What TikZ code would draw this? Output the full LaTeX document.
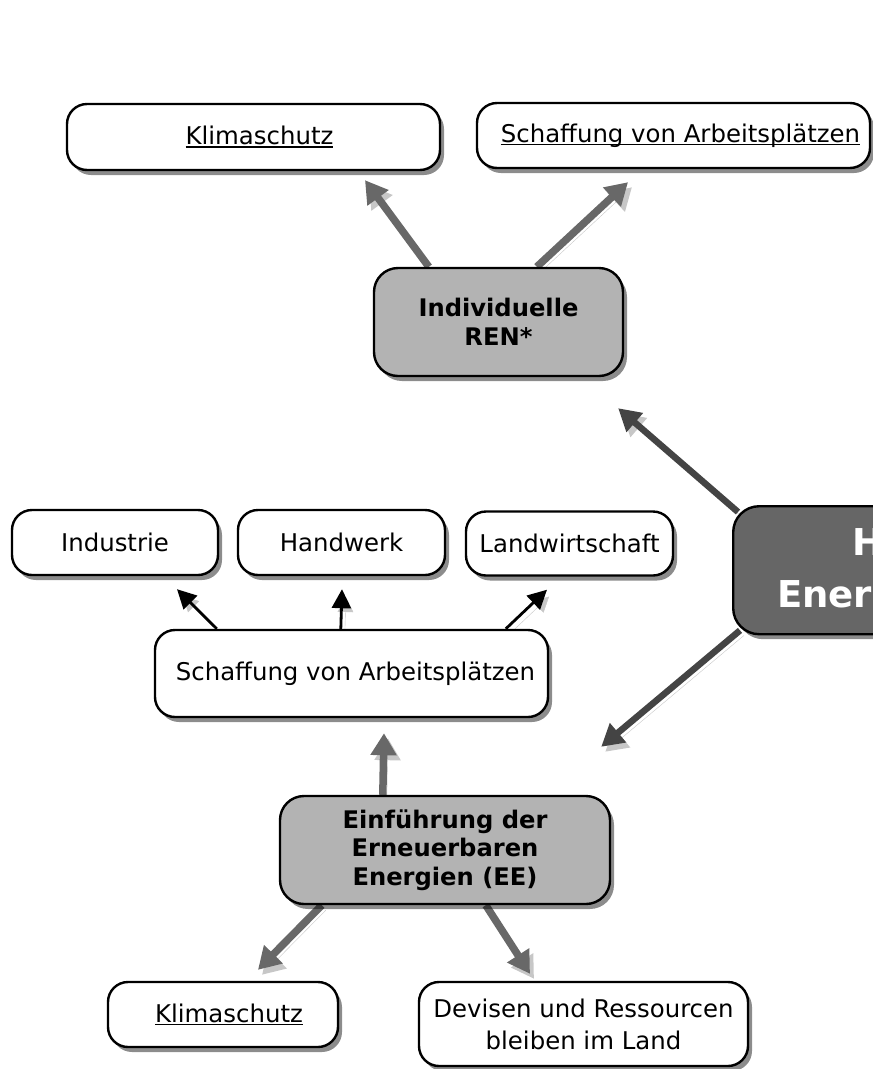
\documentclass[tikz,border=0pt]{standalone}
\usepackage{fontspec}
\setmainfont{DejaVu Sans}
\usetikzlibrary{arrows.meta,shadows,calc,backgrounds}
\definecolor{boxgray}{HTML}{B3B3B3}
\definecolor{darkbox}{HTML}{666666}
\definecolor{arrgray}{HTML}{686868}
\definecolor{arrdark}{HTML}{444444}
\newsavebox\myulbox
\newcommand\myul[1]{\sbox\myulbox{#1}\rlap{\rule[-2.6pt]{\wd\myulbox}{1.3pt}}\usebox\myulbox}
\begin{document}
\begin{tikzpicture}[x=1pt,y=-1pt,
  box/.style={draw=black, line width=2.4pt, rounded corners=20pt, fill=white, align=center, inner sep=0pt,
    drop shadow={shadow xshift=4pt, shadow yshift=-5pt, fill=black, opacity=0.45},
    font=\fontsize{24.4pt}{30pt}\selectfont},
  graybox/.style={box, fill=boxgray, rounded corners=24pt, font=\fontsize{24.2pt}{28.5pt}\selectfont\bfseries},
  bigbox/.style={box, fill=darkbox, rounded corners=26pt},
  bigtext/.style={text=white, inner sep=0pt, font=\fontsize{37pt}{44pt}\selectfont\bfseries},
  ashadow/.style={preaction={draw=black!22, transform canvas={xshift=4pt,yshift=-5pt}}},
  garrow/.style={draw=arrgray, line width=7.5pt, -{Triangle[length=22pt,width=25pt]}, ashadow},
  darrow/.style={draw=arrdark, line width=6.5pt, -{Triangle[length=22pt,width=24pt]}, ashadow},
  barrow/.style={draw=black, line width=2.8pt, -{Triangle[length=19pt,width=19pt]}, ashadow}
]
\useasboundingbox (0,0) rectangle (873,1069);
\clip (0,0) rectangle (873,1069);

% top row
\node[box, minimum width=373pt, minimum height=66pt] (klima1) at (253.5,137) {\hspace*{12pt}\myul{Klimaschutz}};
\node[box, minimum width=393pt, minimum height=65pt] (arb1) at (673.5,135.5) {\hspace*{14pt}\myul{Schaffung von Arbeitsplätzen}};
\node[graybox, minimum width=249pt, minimum height=108pt] (ren) at (498.5,322) {Individuelle\\REN*};

% big box (cut by the right edge, as in the reference)
\node[bigbox, anchor=north west, minimum width=400pt, minimum height=128pt] (big) at (732,505) {};
\node[bigtext, anchor=base west] (bigt1) at (852,555) {H};
\node[bigtext, anchor=base west] (bigt2) at (777,607) {Ener};

% middle row
\node[box, minimum width=206pt, minimum height=65pt] (ind) at (115,542.5) {Industrie};
\node[box, minimum width=207pt, minimum height=65pt] (hand) at (341.5,542.5) {Handwerk};
\node[box, minimum width=207pt, minimum height=64pt] (land) at (569.5,543.5) {Landwirtschaft};
\node[box, minimum width=393pt, minimum height=87pt] (sva) at (351.5,673.5) {\raisebox{4pt}{\hspace*{8pt}Schaffung von Arbeitsplätzen}};

% lower part
\node[graybox, minimum width=330pt, minimum height=108pt] (ein) at (445,850) {Einführung der\\Erneuerbaren\\Energien (EE)};
\node[box, minimum width=230pt, minimum height=65pt] (klima2) at (223,1014.5) {\hspace*{12pt}\myul{Klimaschutz}};
\node[box, minimum width=329pt, minimum height=84pt, font=\fontsize{24.4pt}{32pt}\selectfont] (dev) at (583.5,1024) {Devisen und Ressourcen\\bleiben im Land};

\begin{scope}[on background layer]
\draw[garrow] ($(ren.north west)+(56,0)$) -- ($(klima1.south)+(111.5,9)$);
\draw[garrow] ($(ren.north west)+(164,0)$) -- ($(arb1.south)+(-45.5,13)$);
\draw[darrow] ($(big.north west)+(6,7)$) -- ($(ren.south east)+(-6,31)$);
\draw[darrow] ($(big.south west)+(8,-5)$) -- ($(ein.north east)+(-10,-48)$);
\draw[barrow] ($(sva.north west)+(63,0)$) -- ($(ind.south)+(62,13)$);
\draw[barrow] ($(sva.north west)+(187,0)$) -- ($(hand.south)+(0.5,13)$);
\draw[barrow] ($(sva.north west)+(352,0)$) -- ($(land.south)+(-22.5,13)$);
\draw[garrow] ($(ein.north west)+(104,0)$) -- ($(sva.south)+(32.5,15)$);
\draw[garrow] ($(ein.south west)+(43,0)$) -- ($(klima2.north)+(35,-11)$);
\draw[garrow] ($(ein.south west)+(207,0)$) -- ($(dev.north)+(-53.5,-7)$);
\end{scope}
\end{tikzpicture}
\end{document}
